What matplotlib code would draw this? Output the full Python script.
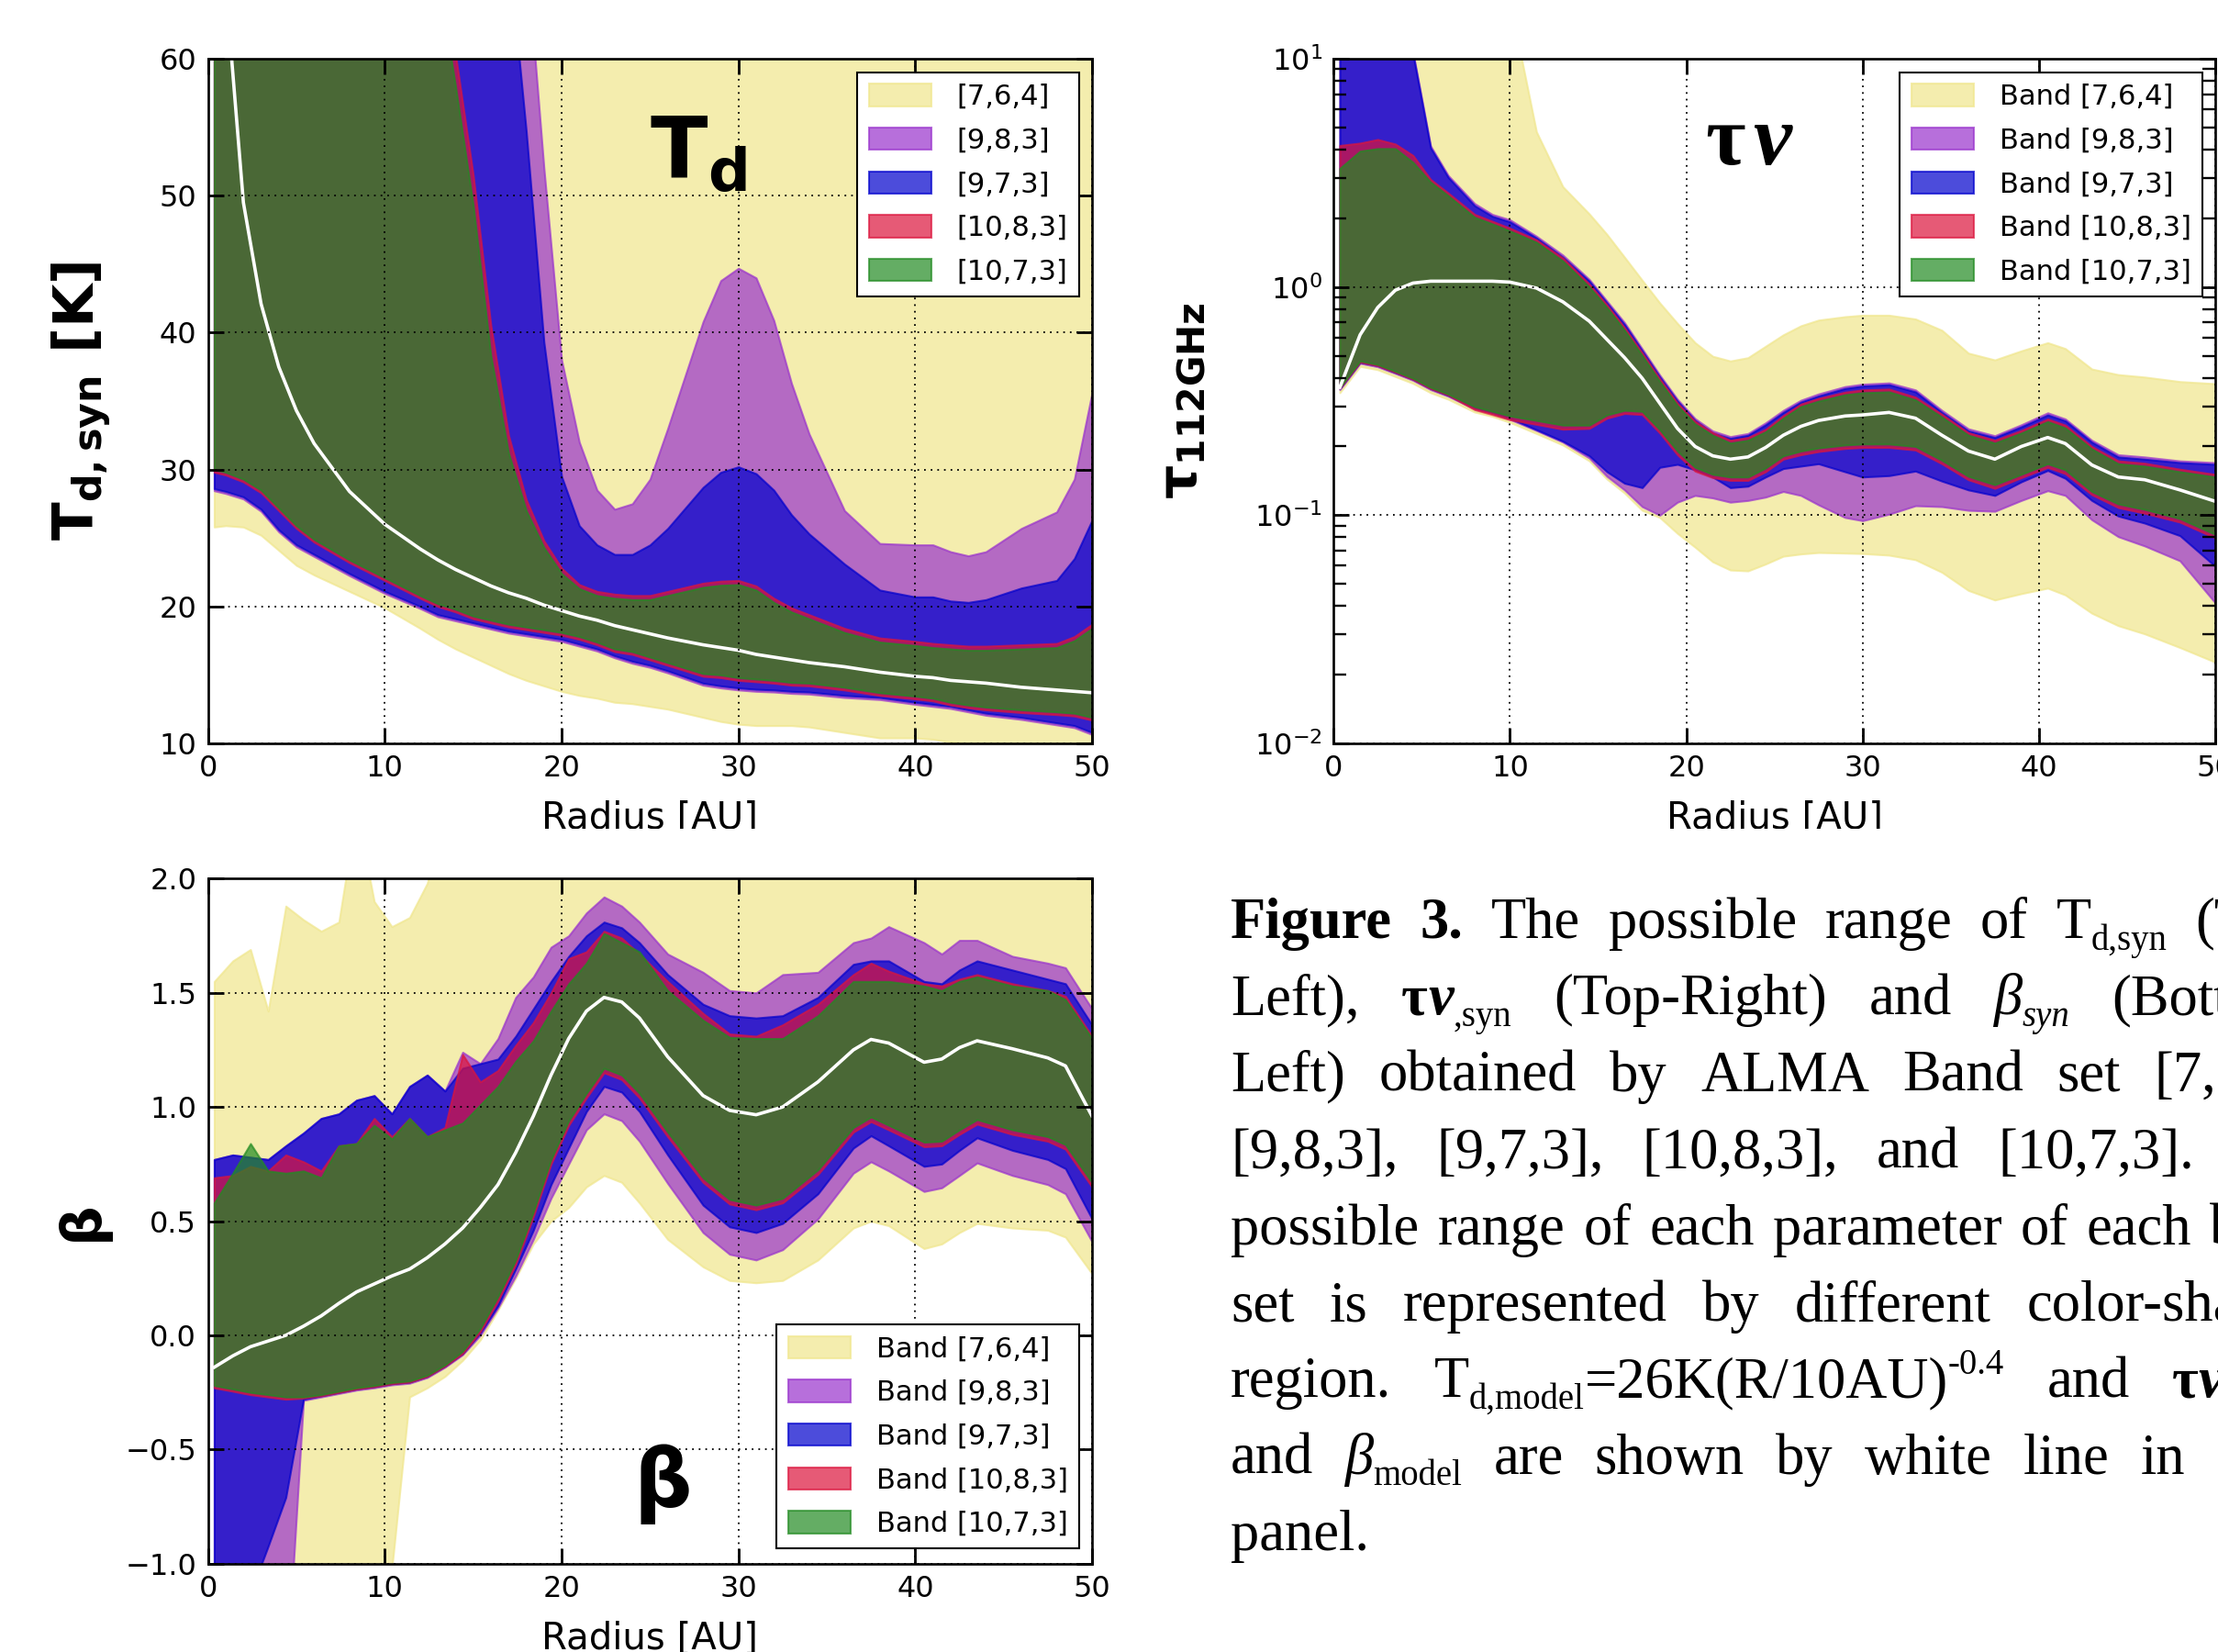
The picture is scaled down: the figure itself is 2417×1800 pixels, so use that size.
import numpy as np
import matplotlib
matplotlib.use("Agg")
import matplotlib.pyplot as plt
from matplotlib.transforms import Bbox, TransformedBbox, IdentityTransform

# ----------------------------------------------------------------- data
BAND_SETS = ["[7,6,4]", "[9,8,3]", "[9,7,3]", "[10,8,3]", "[10,7,3]"]
BAND_COLORS = ["khaki", "darkorchid", "mediumblue", "crimson", "forestgreen"]

# ---- Td,syn panel (K)
R_TD = [0.35, 1, 2, 3, 4, 5, 6, 8, 10, 12, 13, 14, 15, 16, 17, 18, 19, 20, 21, 22,
        23, 24, 25, 26, 28, 29, 30, 31, 32, 33, 34, 36, 38, 40, 41, 42, 43, 44, 46,
        48, 49, 50]
TD_764_LO = [25.8, 25.9, 25.8, 25.2, 24.1, 23.0, 22.3, 21.1, 19.9, 18.4, 17.6, 16.9, 16.3,
             15.7, 15.1, 14.6, 14.2, 13.8, 13.5, 13.3, 13.0, 12.9, 12.7, 12.5, 11.9, 11.6,
             11.4, 11.3, 11.3, 11.3, 11.2, 10.8, 10.4, 10.4, 10.3, 10.1, 10.0, 9.9, 9.8,
             9.7, 9.6, 9.5]
TD_764_HI = [80.0] * len(R_TD)
TD_983_LO = [28.45, 28.25, 27.85, 26.95, 25.45, 24.35, 23.65, 22.25, 20.95, 19.85, 19.25,
             18.95, 18.65, 18.35, 18.05, 17.85, 17.65, 17.45, 17.1, 16.75, 16.25, 15.85,
             15.55, 15.15, 14.25, 14.05, 13.9, 13.8, 13.75, 13.65, 13.6, 13.35, 13.2, 12.85,
             12.7, 12.55, 12.3, 12.05, 11.75, 11.35, 11.15, 10.65]
TD_983_HI = [80, 80, 80, 80, 80, 80, 80, 80, 80, 80, 80, 80, 80, 80, 80, 68, 52, 38, 32,
             28.5, 27.1, 27.5, 29.3, 33.0, 40.8, 43.8, 44.7, 44.0, 40.9, 36.3, 32.6, 27.0,
             24.6, 24.5, 24.5, 24.0, 23.7, 24.0, 25.7, 26.9, 29.3, 35.6]
TD_973_LO = [28.6, 28.4, 28.0, 27.1, 25.6, 24.5, 23.8, 22.4, 21.1, 20.0, 19.4, 19.1, 18.8,
             18.5, 18.2, 18.0, 17.8, 17.6, 17.25, 16.9, 16.4, 16.0, 15.7, 15.3, 14.4, 14.2,
             14.05, 13.95, 13.9, 13.8, 13.75, 13.5, 13.35, 13.0, 12.85, 12.7, 12.45, 12.2,
             11.9, 11.5, 11.3, 10.8]
TD_973_HI = [80, 80, 80, 80, 80, 80, 80, 80, 80, 80, 80, 80, 80, 80, 68, 54.7, 39.3, 29.5,
             25.9, 24.5, 23.8, 23.8, 24.5, 25.7, 28.7, 29.8, 30.2, 29.7, 28.5, 26.7, 25.3,
             23.1, 21.2, 20.7, 20.7, 20.4, 20.3, 20.5, 21.35, 21.9, 23.5, 26.3]
TD_1083_LO = [29.8, 29.6, 29.1, 28.3, 27.0, 25.7, 24.7, 23.2, 21.9, 20.6, 20.0, 19.6, 19.1,
              18.8, 18.5, 18.3, 18.1, 17.9, 17.6, 17.2, 16.7, 16.5, 16.1, 15.7, 14.9, 14.8,
              14.6, 14.5, 14.4, 14.25, 14.2, 13.9, 13.5, 13.25, 13.1, 12.8, 12.6, 12.45,
              12.25, 12.1, 12.0, 11.7]
TD_1083_HI = [80, 80, 80, 80, 80, 80, 80, 80, 80, 80, 68, 60.3, 51.5, 40.5, 32.5, 27.8, 24.8,
              22.8, 21.6, 21.1, 20.9, 20.8, 20.8, 21.1, 21.7, 21.85, 21.9, 21.5, 20.6, 19.9,
              19.4, 18.4, 17.7, 17.45, 17.3, 17.2, 17.1, 17.1, 17.2, 17.3, 17.8, 18.7]
TD_1073_LO = [30.0, 29.8, 29.3, 28.5, 27.2, 25.9, 24.9, 23.4, 22.1, 20.8, 20.2, 19.8, 19.3,
              19.0, 18.7, 18.5, 18.3, 18.1, 17.8, 17.4, 16.9, 16.7, 16.3, 15.9, 15.1, 15.0,
              14.8, 14.7, 14.6, 14.45, 14.4, 14.1, 13.7, 13.45, 13.3, 13.0, 12.8, 12.65,
              12.45, 12.3, 12.2, 11.9]
TD_1073_HI = [80, 80, 80, 80, 80, 80, 80, 80, 80, 80, 66, 58.0, 49.3, 38.3, 31.2, 27.0, 24.3,
              22.4, 21.3, 20.8, 20.6, 20.5, 20.5, 20.8, 21.4, 21.55, 21.6, 21.2, 20.3, 19.6,
              19.1, 18.1, 17.4, 17.15, 17.0, 16.9, 16.8, 16.8, 16.9, 17.0, 17.5, 18.4]
TD_MODEL = [86.0, 65.3, 49.5, 42.1, 37.5, 34.3, 31.9, 28.4, 26.0, 24.2, 23.4, 22.7, 22.1,
            21.5, 21.0, 20.6, 20.1, 19.7, 19.3, 19.0, 18.6, 18.3, 18.0, 17.7, 17.2, 17.0,
            16.8, 16.5, 16.3, 16.1, 15.9, 15.6, 15.2, 14.9, 14.8, 14.6, 14.5, 14.4, 14.1,
            13.9, 13.8, 13.7]

# ---- tau_112GHz panel
R_TAU = [0.35, 1.5, 2.5, 3.5, 4.5, 5.5, 6.5, 8, 9, 10, 11.5, 13, 14.5, 15.5, 16.5, 17.5,
         18.5, 19.5, 20.5, 21.5, 22.5, 23.5, 24.5, 25.5, 26.5, 27.5, 29, 30, 31.5, 33, 34.5,
         36, 37.5, 39, 40.5, 41.5, 43, 44.5, 46, 48, 50]
TAU_764_LO = [0.344, 0.449, 0.434, 0.405, 0.378, 0.344, 0.322, 0.283, 0.271, 0.255, 0.228,
              0.203, 0.173, 0.144, 0.125, 0.105, 0.0977, 0.0832, 0.0724, 0.0625, 0.0575,
              0.0570, 0.0611, 0.0661, 0.0676, 0.0686, 0.0682, 0.0679, 0.0668, 0.0638, 0.0562,
              0.0468, 0.0425, 0.0453, 0.0479, 0.0447, 0.0372, 0.0328, 0.0302, 0.0263, 0.0227]
TAU_764_HI = [20, 20, 20, 20, 20, 20, 20, 20, 20, 17.8, 4.79, 2.75, 2.09, 1.70, 1.35, 1.07,
              0.851, 0.692, 0.570, 0.497, 0.474, 0.490, 0.550, 0.617, 0.676, 0.716, 0.741,
              0.752, 0.752, 0.724, 0.646, 0.513, 0.479, 0.525, 0.570, 0.537, 0.437, 0.413,
              0.403, 0.385, 0.377]
TAU_983_LO = [0.355, 0.463, 0.447, 0.418, 0.390, 0.355, 0.332, 0.292, 0.279, 0.263, 0.235,
              0.209, 0.178, 0.148, 0.129, 0.109, 0.100, 0.114, 0.122, 0.119, 0.114, 0.116,
              0.120, 0.127, 0.122, 0.111, 0.0977, 0.0946, 0.101, 0.110, 0.109, 0.105, 0.104,
              0.116, 0.128, 0.122, 0.0955, 0.0805, 0.0733, 0.0631, 0.0413]
TAU_983_HI = [20, 20, 20, 20, 10.7, 4.15, 3.08, 2.32, 2.08, 1.97, 1.67, 1.38, 1.08, 0.868,
              0.698, 0.536, 0.411, 0.322, 0.265, 0.234, 0.221, 0.228, 0.254, 0.288, 0.319,
              0.340, 0.366, 0.375, 0.380, 0.354, 0.288, 0.239, 0.223, 0.249, 0.281, 0.264,
              0.213, 0.184, 0.180, 0.173, 0.170]
TAU_973_LO = [0.359, 0.468, 0.452, 0.422, 0.394, 0.359, 0.335, 0.295, 0.282, 0.266, 0.237,
              0.211, 0.182, 0.155, 0.138, 0.132, 0.162, 0.167, 0.158, 0.147, 0.132, 0.134,
              0.147, 0.160, 0.164, 0.168, 0.155, 0.147, 0.149, 0.156, 0.141, 0.129, 0.122,
              0.140, 0.157, 0.145, 0.116, 0.0991, 0.0923, 0.0813, 0.0597]
TAU_973_HI = [20, 20, 20, 20, 10.5, 4.07, 3.02, 2.27, 2.04, 1.93, 1.64, 1.35, 1.06, 0.851,
              0.684, 0.525, 0.403, 0.316, 0.260, 0.229, 0.217, 0.224, 0.249, 0.282, 0.313,
              0.333, 0.359, 0.368, 0.373, 0.347, 0.282, 0.234, 0.219, 0.244, 0.275, 0.259,
              0.209, 0.180, 0.176, 0.170, 0.167]
TAU_1083_LO = [0.360, 0.469, 0.452, 0.423, 0.394, 0.359, 0.336, 0.290, 0.276, 0.262, 0.250,
               0.238, 0.240, 0.266, 0.279, 0.276, 0.229, 0.184, 0.156, 0.146, 0.142, 0.142,
               0.155, 0.176, 0.184, 0.190, 0.196, 0.198, 0.198, 0.193, 0.168, 0.143, 0.131,
               0.146, 0.162, 0.152, 0.123, 0.108, 0.102, 0.0932, 0.0795]
TAU_1083_HI = [4.17, 4.27, 4.43, 4.23, 3.77, 2.96, 2.58, 2.08, 1.94, 1.81, 1.61, 1.34, 1.03,
               0.836, 0.664, 0.515, 0.396, 0.310, 0.258, 0.230, 0.213, 0.219, 0.238, 0.273,
               0.307, 0.325, 0.346, 0.354, 0.357, 0.329, 0.277, 0.230, 0.213, 0.235, 0.264,
               0.248, 0.200, 0.173, 0.169, 0.159, 0.151]
TAU_1073_LO = [0.363, 0.474, 0.457, 0.427, 0.398, 0.363, 0.339, 0.299, 0.285, 0.272, 0.260,
               0.248, 0.248, 0.275, 0.288, 0.285, 0.237, 0.191, 0.162, 0.151, 0.147, 0.147,
               0.161, 0.182, 0.191, 0.197, 0.203, 0.205, 0.205, 0.200, 0.174, 0.148, 0.136,
               0.151, 0.168, 0.158, 0.127, 0.112, 0.106, 0.0966, 0.0824]
TAU_1073_HI = [3.31, 3.94, 4.04, 4.04, 3.52, 2.88, 2.51, 2.02, 1.89, 1.76, 1.57, 1.30, 1.00,
               0.813, 0.646, 0.501, 0.385, 0.302, 0.251, 0.224, 0.207, 0.213, 0.232, 0.266,
               0.299, 0.316, 0.337, 0.344, 0.347, 0.320, 0.269, 0.224, 0.207, 0.229, 0.257,
               0.241, 0.195, 0.168, 0.164, 0.155, 0.147]
TAU_MODEL = [0.363, 0.617, 0.813, 0.968, 1.04, 1.06, 1.06, 1.06, 1.06, 1.05, 0.989, 0.861,
             0.708, 0.589, 0.490, 0.398, 0.309, 0.240, 0.200, 0.182, 0.176, 0.180, 0.198,
             0.224, 0.245, 0.260, 0.272, 0.275, 0.282, 0.266, 0.224, 0.191, 0.176, 0.200,
             0.219, 0.206, 0.166, 0.147, 0.143, 0.129, 0.115]

# ---- beta panel
R_BETA = [0.35, 1.4, 2.4, 3.4, 4.4, 5.4, 6.4, 7.4, 8.4, 9.4, 10.4, 11.4, 12.4, 13.4, 14.4,
          15.4, 16.4, 17.4, 18.4, 19.4, 20.4, 21.4, 22.4, 23.4, 24.4, 26, 28, 29.5, 31,
          32.5, 34.5, 36.5, 37.5, 38.5, 40.5, 41.5, 42.5, 43.5, 45.5, 47.5, 48.5, 50]
B_764_LO = [-1.8, -1.8, -1.8, -1.8, -1.8, -1.8, -1.8, -1.8, -1.8, -1.8, -1.02, -0.27, -0.23,
            -0.18, -0.11, -0.02, 0.11, 0.25, 0.40, 0.50, 0.56, 0.65, 0.70, 0.67, 0.58, 0.42,
            0.30, 0.24, 0.23, 0.24, 0.33, 0.47, 0.50, 0.48, 0.38, 0.40, 0.45, 0.49, 0.47,
            0.46, 0.43, 0.27]
B_764_HI = [1.55, 1.64, 1.69, 1.42, 1.88, 1.82, 1.77, 1.81, 2.3, 1.90, 1.79, 1.83, 1.98, 2.3,
            2.3, 2.3, 2.3, 2.3, 2.3, 2.3, 2.3, 2.3, 2.3, 2.3, 2.3, 2.3, 2.3, 2.3, 2.3, 2.3,
            2.3, 2.3, 2.3, 2.3, 2.3, 2.3, 2.3, 2.3, 2.3, 2.3, 2.3, 2.3]
B_983_LO = [-1.8, -1.8, -1.8, -1.7, -1.55, -0.285, -0.27, -0.255, -0.24, -0.23, -0.217, -0.21,
            -0.185, -0.14, -0.085, 0.0, 0.12, 0.26, 0.42, 0.60, 0.75, 0.90, 0.97, 0.94, 0.85,
            0.665, 0.45, 0.355, 0.33, 0.375, 0.51, 0.71, 0.76, 0.72, 0.63, 0.646, 0.70, 0.755,
            0.70, 0.66, 0.62, 0.41]
B_983_HI = [0.77, 0.79, 0.78, 0.77, 0.83, 0.886, 0.95, 0.97, 1.03, 1.05, 0.97, 1.09, 1.14,
            1.07, 1.24, 1.19, 1.30, 1.48, 1.57, 1.70, 1.75, 1.85, 1.92, 1.88, 1.81, 1.67,
            1.59, 1.51, 1.50, 1.58, 1.59, 1.72, 1.74, 1.79, 1.72, 1.67, 1.73, 1.73, 1.66,
            1.63, 1.61, 1.43]
B_973_LO = [-1.6, -1.4, -1.13, -0.924, -0.71, -0.28, -0.265, -0.25, -0.235, -0.225, -0.212,
            -0.205, -0.18, -0.135, -0.08, 0.01, 0.13, 0.29, 0.46, 0.66, 0.82, 0.98, 1.09,
            1.065, 0.98, 0.79, 0.57, 0.475, 0.45, 0.49, 0.62, 0.82, 0.874, 0.83, 0.74, 0.75,
            0.81, 0.865, 0.81, 0.77, 0.73, 0.51]
B_973_HI = [0.77, 0.79, 0.78, 0.77, 0.83, 0.886, 0.95, 0.97, 1.03, 1.05, 0.97, 1.09, 1.14,
            1.07, 1.17, 1.19, 1.21, 1.31, 1.43, 1.55, 1.66, 1.75, 1.81, 1.785, 1.72, 1.58,
            1.45, 1.40, 1.39, 1.40, 1.48, 1.625, 1.64, 1.64, 1.55, 1.54, 1.60, 1.64, 1.60,
            1.56, 1.54, 1.36]
B_1083_LO = [-0.23, -0.245, -0.26, -0.27, -0.28, -0.275, -0.265, -0.25, -0.235, -0.225,
             -0.212, -0.205, -0.18, -0.135, -0.08, 0.015, 0.15, 0.31, 0.52, 0.75, 0.92, 1.04,
             1.15, 1.12, 1.04, 0.87, 0.67, 0.575, 0.55, 0.58, 0.705, 0.89, 0.936, 0.90,
             0.826, 0.83, 0.88, 0.925, 0.88, 0.85, 0.815, 0.65]
B_1083_HI = [0.69, 0.70, 0.74, 0.72, 0.79, 0.76, 0.72, 0.83, 0.84, 0.95, 0.87, 0.95, 0.87,
             0.91, 1.23, 1.11, 1.16, 1.27, 1.37, 1.50, 1.65, 1.68, 1.77, 1.74, 1.67, 1.55,
             1.41, 1.32, 1.31, 1.36, 1.45, 1.58, 1.63, 1.595, 1.54, 1.53, 1.56, 1.58, 1.54,
             1.51, 1.485, 1.31]
B_1073_LO = [-0.22, -0.235, -0.25, -0.26, -0.27, -0.27, -0.26, -0.245, -0.23, -0.22, -0.207,
             -0.20, -0.175, -0.13, -0.07, 0.03, 0.17, 0.33, 0.54, 0.77, 0.94, 1.06, 1.17,
             1.14, 1.06, 0.89, 0.69, 0.595, 0.57, 0.60, 0.725, 0.91, 0.956, 0.92, 0.846,
             0.85, 0.90, 0.945, 0.90, 0.87, 0.835, 0.67]
B_1073_HI = [0.58, 0.71, 0.84, 0.72, 0.71, 0.72, 0.69, 0.83, 0.84, 0.92, 0.86, 0.95, 0.87,
             0.90, 0.93, 1.01, 1.09, 1.20, 1.29, 1.42, 1.54, 1.63, 1.76, 1.72, 1.68, 1.51,
             1.38, 1.305, 1.30, 1.30, 1.40, 1.55, 1.55, 1.55, 1.53, 1.51, 1.55, 1.57, 1.53,
             1.51, 1.47, 1.30]
B_MODEL = [-0.14, -0.09, -0.05, -0.025, 0.0, 0.04, 0.085, 0.14, 0.19, 0.225, 0.26, 0.29,
           0.34, 0.40, 0.47, 0.56, 0.66, 0.80, 0.96, 1.14, 1.30, 1.42, 1.48, 1.46, 1.39,
           1.22, 1.05, 0.985, 0.966, 1.0, 1.11, 1.25, 1.296, 1.28, 1.196, 1.21, 1.26, 1.29,
           1.255, 1.215, 1.18, 0.96]

X_TICKS = [0, 10, 20, 30, 40, 50]
TD_TICKS = [10, 20, 30, 40, 50, 60]
BETA_TICKS = [-1.0, -0.5, 0.0, 0.5, 1.0, 1.5, 2.0]

CAPTION = [
    [[("Figure", "b")], [("3.", "b")], [("The", "r")], [("possible", "r")], [("range", "r")],
     [("of", "r")], [("T", "r"), ("d,syn", "sub")], [("(Top-", "r")]],
    [[("Left),", "r")], [("\u03c4", "b"), ("\u03bd", "bi"), (",syn", "sub")], [("(Top-Right)", "r")],
     [("and", "r")], [("\u03b2", "i"), ("syn", "isub")], [("(Bottom-", "r")]],
    [[("Left)", "r")], [("obtained", "r")], [("by", "r")], [("ALMA", "r")], [("Band", "r")],
     [("set", "r")], [("[7,6,4],", "r")]],
    [[("[9,8,3],", "r")], [("[9,7,3],", "r")], [("[10,8,3],", "r")], [("and", "r")],
     [("[10,7,3].", "r")], [("The", "r")]],
    [[("possible", "r")], [("range", "r")], [("of", "r")], [("each", "r")], [("parameter", "r")],
     [("of", "r")], [("each", "r")], [("band", "r")]],
    [[("set", "r")], [("is", "r")], [("represented", "r")], [("by", "r")], [("different", "r")],
     [("color-shaded", "r")]],
    [[("region.", "r")], [("T", "r"), ("d,model", "sub"), ("=26K(R/10AU)", "r"), ("-0.4", "sup")],
     [("and", "r")], [("\u03c4", "b"), ("\u03bd", "bi"), (",model", "sub")]],
    [[("and", "r")], [("\u03b2", "i"), ("model", "sub")], [("are", "r")], [("shown", "r")],
     [("by", "r")], [("white", "r")], [("line", "r")], [("in", "r")], [("each", "r")]],
    [[("panel.", "r")]],
]

# ----------------------------------------------------------------- figure
W, H = 2417, 1800
fig = plt.figure(figsize=(W / 100, H / 100), dpi=100, facecolor="white")


def px_axes(l, t, r, b):
    return [l / W, 1 - b / H, (r - l) / W, (b - t) / H]


ax_td = fig.add_axes(px_axes(226.7, 64, 1190, 810))
ax_tau = fig.add_axes(px_axes(1453.3, 64, 2414, 810))
ax_beta = fig.add_axes(px_axes(226.7, 957.4, 1190, 1703.7))


def draw_panel(ax, r, lows, highs, model, labels):
    for lo, hi, col, lab in zip(lows, highs, BAND_COLORS, labels):
        ax.fill_between(r, lo, hi, facecolor=col, edgecolor=col, alpha=0.7,
                        linewidth=1.5, label=lab, zorder=1)
    ax.plot(r, model, color="white", linewidth=2.6, zorder=2)


def style_axes(ax, clip_label=False):
    ax.set_xlim(0, 50)
    ax.set_xticks(X_TICKS)
    ax.set_axisbelow(False)
    ax.tick_params(which="both", direction="in", top=True, right=True, colors="black")
    ax.tick_params(which="major", length=12, width=2.0, labelsize=23, pad=9)
    ax.tick_params(which="minor", length=10, width=1.7)
    ax.grid(True, which="major", color="black", linestyle=(0, (1, 3)), linewidth=1.3)
    for sp in ax.spines.values():
        sp.set_linewidth(1.9)
        sp.set_color("black")
    ax.set_xlabel("Radius [AU]", fontsize=29, va="top")
    ax.xaxis.set_label_coords(0.5, -0.083)
    if clip_label:
        cb = TransformedBbox(Bbox.from_extents(0, 1 - 903 / H, 1, 1), fig.transFigure)
        ax.xaxis.label.set_clip_box(cb)
        ax.xaxis.label.set_clip_on(True)


def add_legend(ax, labels, loc, anchor):
    handles, _ = ax.get_legend_handles_labels()
    leg = ax.legend(handles, labels, loc=loc, bbox_to_anchor=anchor, borderaxespad=0,
                    fontsize=22, handlelength=2.25, handleheight=0.85, handletextpad=0.9,
                    labelspacing=0.61, borderpad=0.4, fancybox=False, framealpha=1,
                    edgecolor="black")
    leg.get_frame().set_linewidth(1.5)
    return leg


# --- Td panel
draw_panel(ax_td, R_TD,
           [TD_764_LO, TD_983_LO, TD_973_LO, TD_1083_LO, TD_1073_LO],
           [TD_764_HI, TD_983_HI, TD_973_HI, TD_1083_HI, TD_1073_HI],
           TD_MODEL, BAND_SETS)
style_axes(ax_td, clip_label=True)
ax_td.set_ylim(10, 60)
ax_td.set_yticks(TD_TICKS)
ax_td.set_ylabel(r"$\mathbf{T_{d,syn}}$ [K]", fontsize=44, fontweight="bold", va="center")
ax_td.yaxis.set_label_coords(-0.143, 0.5)
add_legend(ax_td, BAND_SETS, "upper right", (0.9855, 0.980))
ax_td.text(0.4996, 0.826, r"$\mathbf{T_d}$", transform=ax_td.transAxes, fontsize=66,
           ha="left", va="baseline", zorder=5)

# --- tau panel
draw_panel(ax_tau, R_TAU,
           [TAU_764_LO, TAU_983_LO, TAU_973_LO, TAU_1083_LO, TAU_1073_LO],
           [TAU_764_HI, TAU_983_HI, TAU_973_HI, TAU_1083_HI, TAU_1073_HI],
           TAU_MODEL, ["Band " + b for b in BAND_SETS])
ax_tau.set_yscale("log")
style_axes(ax_tau, clip_label=True)
ax_tau.set_ylim(1e-2, 1e1)
ax_tau.set_ylabel(r"$\mathbf{\tau_{112GHz}}$", fontsize=42, va="center")
ax_tau.yaxis.set_label_coords(-0.173, 0.5)
add_legend(ax_tau, ["Band " + b for b in BAND_SETS], "upper right", (0.9854, 0.980))
ax_tau.text(0.421, 0.846, "\u03c4", transform=ax_tau.transAxes, fontsize=68,
            family="Liberation Serif", fontweight="bold", ha="left", va="baseline", zorder=5)
ax_tau.text(0.476, 0.846, "\u03bd", transform=ax_tau.transAxes, fontsize=68,
            family="Liberation Serif", fontweight="bold", fontstyle="italic",
            ha="left", va="baseline", zorder=5)

# --- beta panel
draw_panel(ax_beta, R_BETA,
           [B_764_LO, B_983_LO, B_973_LO, B_1083_LO, B_1073_LO],
           [B_764_HI, B_983_HI, B_973_HI, B_1083_HI, B_1073_HI],
           B_MODEL, ["Band " + b for b in BAND_SETS])
style_axes(ax_beta)
ax_beta.set_ylim(-1.0, 2.0)
ax_beta.set_yticks(BETA_TICKS)
ax_beta.set_ylabel("\u03b2", fontsize=44, fontweight="bold", va="center")
ax_beta.yaxis.set_label_coords(-0.143, 0.5)
add_legend(ax_beta, ["Band " + b for b in BAND_SETS], "lower right", (0.9855, 0.022))
ax_beta.text(0.514, 0.116, "\u03b2", transform=ax_beta.transAxes, fontsize=64,
             fontweight="bold", ha="center", va="center", zorder=5)

# ----------------------------------------------------------------- caption
CAP_FS = 45
CAP_LEFT, CAP_RIGHT = 1341, 2530
CAP_BASE0, CAP_STEP = 1022, 83.4
STY = {
    "r": ({}, 1.0, 0.0),
    "b": ({"weight": "bold"}, 1.0, 0.0),
    "i": ({"style": "italic"}, 1.0, 0.0),
    "bi": ({"weight": "bold", "style": "italic"}, 1.0, 0.0),
    "sub": ({}, 0.62, -0.20),
    "isub": ({"style": "italic"}, 0.62, -0.20),
    "sup": ({}, 0.62, 0.40),
}
renderer = fig.canvas.get_renderer()
em = CAP_FS * 100 / 72
ident = IdentityTransform()
for k, line in enumerate(CAPTION):
    ybase = H - (CAP_BASE0 + k * CAP_STEP)
    words = []
    for word in line:
        segs = []
        wsum = 0.0
        for s, st in word:
            extra, scale, dy = STY[st]
            t = fig.text(0, 0, s, transform=ident, ha="left", va="baseline",
                         fontsize=CAP_FS * scale, family="Liberation Serif", **extra)
            w = t.get_window_extent(renderer).width
            segs.append((t, wsum, dy * em))
            wsum += w
        words.append((segs, wsum))
    total = sum(w for _, w in words)
    if k < len(CAPTION) - 1 and len(words) > 1:
        gap = (CAP_RIGHT - CAP_LEFT - total) / (len(words) - 1)
    else:
        gap = 0.25 * em
    x = CAP_LEFT
    for segs, wsum in words:
        for t, off, dy in segs:
            t.set_position((x + off, ybase + dy))
        x += wsum + gap

fig.savefig("out.png", dpi=100, facecolor="white")
